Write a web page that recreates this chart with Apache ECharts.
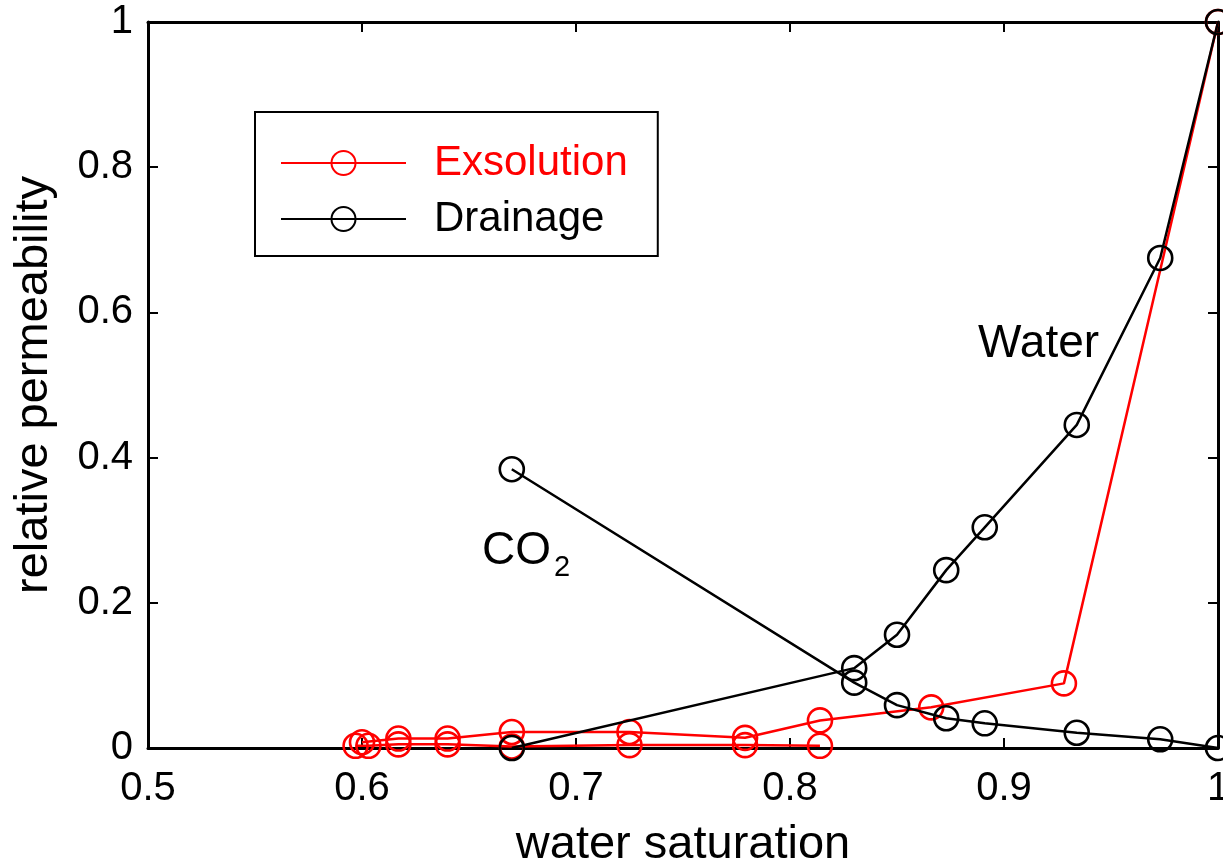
<!DOCTYPE html>
<html>
<head>
<meta charset="utf-8">
<script src="https://cdn.jsdelivr.net/npm/echarts@6/dist/echarts.min.js"></script>
<style>
html,body{margin:0;padding:0;background:#fff;}
#chart{width:1223px;height:863px;}
</style>
</head>
<body>
<div id="chart"></div>
<script>
// ---- data ----
const exsWaterX = [0.600, 0.617, 0.640, 0.670, 0.725, 0.779, 0.814, 0.866, 0.928, 1.000];
const exsWaterY = [0.008, 0.013, 0.013, 0.022, 0.022, 0.014, 0.038, 0.056, 0.089, 1.000];
const exsCo2X   = [0.597, 0.603, 0.617, 0.640, 0.670, 0.725, 0.779, 0.814];
const exsCo2Y   = [0.003, 0.003, 0.005, 0.005, 0.002, 0.004, 0.004, 0.003];
const drnWaterX = [0.670, 0.830, 0.850, 0.873, 0.891, 0.934, 0.973, 1.000];
const drnWaterY = [0.000, 0.110, 0.156, 0.245, 0.304, 0.445, 0.675, 1.000];
const drnCo2X   = [0.670, 0.830, 0.850, 0.873, 0.891, 0.934, 0.973, 1.000];
const drnCo2Y   = [0.384, 0.090, 0.059, 0.041, 0.034, 0.021, 0.012, 0.000];
const seriesNames = ['Exsolution', 'Drainage'];
const xLabel = 'water saturation';
const yLabel = 'relative permeability';
const annotations = [
  {text: 'Water', x: 0.8879, y: 0.556, size: 46},
  {text: 'CO',    x: 0.6561, y: 0.2713, size: 46},
  {text: '2',     x: 0.6897, y: 0.248, size: 29}
];

const zip = (xs, ys) => xs.map((x, i) => [x, ys[i]]);
const FONT = '"Liberation Sans", Arial, Helvetica, sans-serif';

const chart = echarts.init(document.getElementById('chart'), null, {renderer: 'canvas'});

function mkSeries(name, color, xs, ys) {
  return {
    name: name,
    type: 'line',
    data: zip(xs, ys),
    symbol: 'circle',
    symbolSize: 24,
    showAllSymbol: true,
    lineStyle: {color: color, width: 2.5},
    itemStyle: {color: 'rgba(0,0,0,0)', borderColor: color, borderWidth: 2.6},
    emphasis: {disabled: true},
    animation: false,
    z: color === 'red' ? 2 : 3
  };
}

const axisCommon = {
  type: 'value',
  axisLine: {show: true, onZero: false, lineStyle: {color: '#000', width: 3}},
  axisTick: {show: true, inside: true, length: 10, lineStyle: {color: '#000', width: 2}},
  splitLine: {show: false}
};

const option = {
  backgroundColor: '#fff',
  animation: false,
  grid: {left: 148, right: 5, top: 22, bottom: 115, containLabel: false, outerBoundsMode: 'none'},
  legend: {
    left: 255, top: 112,
    orient: 'vertical',
    align: 'left',
    backgroundColor: '#fff',
    borderColor: '#000',
    borderWidth: 2,
    borderRadius: 0,
    padding: [30, 30, 16, 25],
    itemGap: 14,
    itemWidth: 125,
    itemHeight: 30,
    selectedMode: false,
    textStyle: {fontFamily: FONT, fontSize: 42, color: '#000', padding: [0, 0, 0, 23]},
    data: [
      {name: seriesNames[0], textStyle: {color: 'red'}},
      {name: seriesNames[1], textStyle: {color: '#000'}}
    ]
  },
  xAxis: [
    Object.assign({}, axisCommon, {
      position: 'bottom', min: 0.5, max: 1, interval: 0.1,
      name: xLabel, nameLocation: 'middle', nameGap: 74,
      nameTextStyle: {fontFamily: FONT, fontSize: 47, color: '#000'},
      axisLabel: {fontFamily: FONT, fontSize: 40, color: '#000', margin: 21}
    }),
    Object.assign({}, axisCommon, {
      position: 'top', min: 0.5, max: 1, interval: 0.1,
      axisLabel: {show: false}
    })
  ],
  yAxis: [
    Object.assign({}, axisCommon, {
      position: 'left', min: 0, max: 1, interval: 0.2,
      name: yLabel, nameLocation: 'middle', nameGap: 90, nameRotate: 90,
      nameTextStyle: {fontFamily: FONT, fontSize: 47, color: '#000'},
      axisLabel: {fontFamily: FONT, fontSize: 40, color: '#000', margin: 15}
    }),
    Object.assign({}, axisCommon, {
      position: 'right', min: 0, max: 1, interval: 0.2,
      axisLabel: {show: false}
    })
  ],
  series: [
    mkSeries(seriesNames[0], 'red', exsWaterX, exsWaterY),
    mkSeries(seriesNames[0], 'red', exsCo2X, exsCo2Y),
    mkSeries(seriesNames[1], '#000', drnWaterX, drnWaterY),
    mkSeries(seriesNames[1], '#000', drnCo2X, drnCo2Y)
  ]
};

chart.setOption(option);

const graphics = annotations.map(a => {
  const p = chart.convertToPixel({xAxisIndex: 0, yAxisIndex: 0}, [a.x, a.y]);
  return {
    type: 'text',
    x: p[0], y: p[1],
    z: 10,
    style: {text: a.text, fill: '#000', font: a.size + 'px ' + FONT, align: 'left', verticalAlign: 'middle'}
  };
});
chart.setOption({graphic: graphics});
</script>
</body>
</html>
